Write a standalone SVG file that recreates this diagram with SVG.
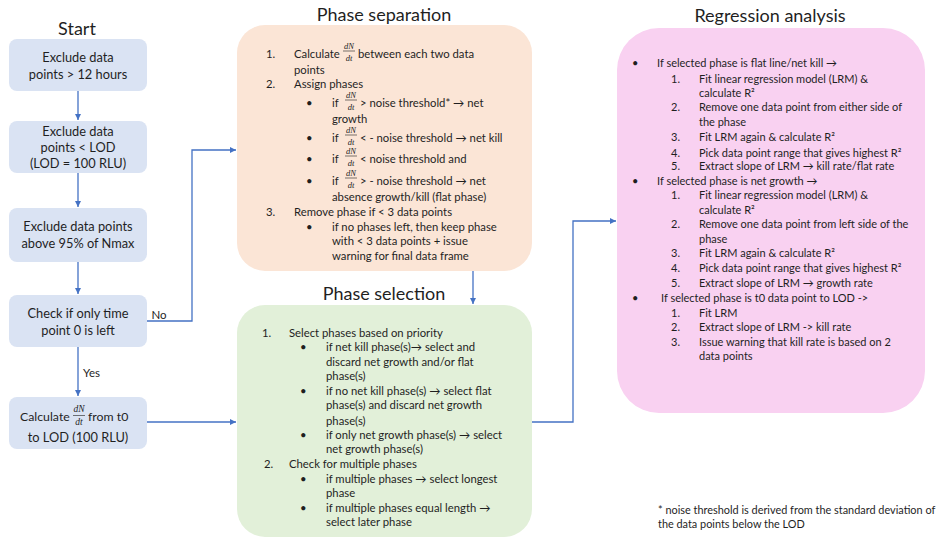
<svg xmlns="http://www.w3.org/2000/svg" width="939" height="539" viewBox="0 0 939 539">
<style>
text{font-family:Lato,"Liberation Sans",sans-serif;fill:#1f1f1f}
.t{font-size:18px}
.b{font-size:12.8px;text-anchor:middle}
.bs{font-size:12.3px}
.s{font-size:11.3px}
.r{font-size:11px}
.f{font-family:"Liberation Serif",serif;font-style:italic;font-size:8.5px;text-anchor:middle}
.fl{stroke:#1f1f1f;stroke-width:0.6}
.blue{fill:#dae3f3}
.con{fill:none;stroke:#4472c4;stroke-width:1.3}
</style>
<defs>
<marker id="ah" markerUnits="userSpaceOnUse" markerWidth="8" markerHeight="8" refX="6" refY="3" orient="auto">
<path d="M0,0 L6,3 L0,6 z" fill="#4472c4"/>
</marker>
</defs>

<text class="t" x="77" y="35" text-anchor="middle">Start</text>
<text class="t" x="384" y="21" text-anchor="middle">Phase separation</text>
<text class="t" x="384" y="300" text-anchor="middle">Phase selection</text>
<text class="t" x="770" y="22" text-anchor="middle">Regression analysis</text>

<g id="connectors">
<path class="con" d="M78,91 V120" marker-end="url(#ah)"/>
<path class="con" d="M78,173 V207" marker-end="url(#ah)"/>
<path class="con" d="M78,262 V294" marker-end="url(#ah)"/>
<path class="con" d="M78,347 V396" marker-end="url(#ah)"/>
<path class="con" d="M147,321 H192 V150 H236" marker-end="url(#ah)"/>
<path class="con" d="M147,422 H236" marker-end="url(#ah)"/>
<path class="con" d="M473,271 V304" marker-end="url(#ah)"/>
<path class="con" d="M532,422 H573 V221 H616" marker-end="url(#ah)"/>
<text x="159" y="319" text-anchor="middle" style="font-size:11.5px">No</text>
<text x="83" y="377" style="font-size:11.5px">Yes</text>
</g>

<g id="n1">
<rect class="blue" x="9" y="39" width="138" height="52" rx="8"/>
<text class="b" x="78" y="62">Exclude data</text>
<text class="b" x="78" y="79">points &gt; 12 hours</text>
</g>
<g id="n2">
<rect class="blue" x="9" y="121" width="138" height="52" rx="8"/>
<text class="b" x="78" y="136">Exclude data</text>
<text class="b" x="78" y="152">points  &lt; LOD</text>
<text class="b" x="78" y="168">(LOD = 100 RLU)</text>
</g>
<g id="n3">
<rect class="blue" x="9" y="208" width="138" height="54" rx="8"/>
<text class="b" x="78" y="231">Exclude data points</text>
<text class="b" x="78" y="248">above 95% of Nmax</text>
</g>
<g id="n4">
<rect class="blue" x="9" y="295" width="138" height="52" rx="8"/>
<text class="b" x="78" y="318">Check if only time</text>
<text class="b" x="78" y="335">point 0 is left</text>
</g>
<g id="n5">
<rect class="blue" x="9" y="397" width="138" height="52" rx="8"/>
<text class="bs" x="20" y="421">Calculate</text>
<text class="f" x="79" y="412" style="font-size:9.5px">dN</text>
<line class="fl" x1="73" y1="415.5" x2="85" y2="415.5"/>
<text class="f" x="79" y="425" style="font-size:9.5px">dt</text>
<text class="bs" x="88" y="421">from t0</text>
<text class="b" x="78" y="442">to LOD (100 RLU)</text>
</g>

<g id="phase-separation">
<rect x="237" y="25" width="295" height="246" rx="28" fill="#fbe5d6"/>
<text class="s" x="266" y="58">1.</text>
<text class="s" x="294" y="58">Calculate</text>
<text class="f" x="349" y="48.5">dN</text>
<line class="fl" x1="343" y1="51" x2="355" y2="51"/>
<text class="f" x="349" y="60.5">dt</text>
<text class="s" x="358" y="58">between each two data</text>
<text class="s" x="294" y="74">points</text>
<text class="s" x="266" y="88">2.</text>
<text class="s" x="294" y="88">Assign phases</text>
<text class="s" x="306" y="107">•</text>
<text class="s" x="332" y="107">if</text>
<text class="f" x="351" y="97.5">dN</text>
<line class="fl" x1="345" y1="100" x2="357" y2="100"/>
<text class="f" x="351" y="109.5">dt</text>
<text class="s" x="360" y="107">&gt; noise threshold* → net</text>
<text class="s" x="332" y="123">growth</text>
<text class="s" x="306" y="142">•</text>
<text class="s" x="332" y="142">if</text>
<text class="f" x="351" y="132.5">dN</text>
<line class="fl" x1="345" y1="135" x2="357" y2="135"/>
<text class="f" x="351" y="144.5">dt</text>
<text class="s" x="360" y="142">&lt; - noise threshold → net kill</text>
<text class="s" x="306" y="163">•</text>
<text class="s" x="332" y="163">if</text>
<text class="f" x="351" y="153.5">dN</text>
<line class="fl" x1="345" y1="156" x2="357" y2="156"/>
<text class="f" x="351" y="165.5">dt</text>
<text class="s" x="360" y="163">&lt; noise threshold and</text>
<text class="s" x="306" y="185">•</text>
<text class="s" x="332" y="185">if</text>
<text class="f" x="351" y="175.5">dN</text>
<line class="fl" x1="345" y1="178" x2="357" y2="178"/>
<text class="f" x="351" y="187.5">dt</text>
<text class="s" x="360" y="185">&gt; - noise threshold → net</text>
<text class="s" x="332" y="201">absence growth/kill (flat phase)</text>
<text class="s" x="266" y="216">3.</text>
<text class="s" x="294" y="216">Remove phase if &lt; 3 data points</text>
<text class="s" x="306" y="231">•</text>
<text class="s" x="332" y="231">if no phases left, then keep phase</text>
<text class="s" x="332" y="245">with &lt; 3 data points + issue</text>
<text class="s" x="332" y="260">warning for final data frame</text>
</g>

<g id="phase-selection">
<rect x="237" y="305" width="295" height="232" rx="28" fill="#e2f0d9"/>
<text class="s" x="262" y="337">1.</text>
<text class="s" x="289" y="337">Select phases based on priority</text>
<text class="s" x="300" y="351">•</text>
<text class="s" x="326" y="351">if net kill phase(s)→ select and</text>
<text class="s" x="326" y="366">discard net growth and/or flat</text>
<text class="s" x="326" y="380">phase(s)</text>
<text class="s" x="300" y="395">•</text>
<text class="s" x="326" y="395">if no net kill phase(s) → select flat</text>
<text class="s" x="326" y="409">phase(s) and discard net growth</text>
<text class="s" x="326" y="425">phase(s)</text>
<text class="s" x="300" y="439">•</text>
<text class="s" x="326" y="439">if only net growth phase(s) → select</text>
<text class="s" x="326" y="453">net growth phase(s)</text>
<text class="s" x="264" y="468">2.</text>
<text class="s" x="289" y="468">Check for multiple phases</text>
<text class="s" x="300" y="483">•</text>
<text class="s" x="326" y="483">if multiple phases → select longest</text>
<text class="s" x="326" y="497">phase</text>
<text class="s" x="300" y="512">•</text>
<text class="s" x="326" y="512">if multiple phases equal length →</text>
<text class="s" x="326" y="526">select later phase</text>
</g>

<g id="regression-analysis">
<rect x="617" y="28" width="308" height="385" rx="42" fill="#f9d1f1"/>
<text class="r" x="632" y="67">•</text>
<text class="r" x="657" y="67">If selected phase is flat line/net kill →</text>
<text class="r" x="671" y="83">1.</text>
<text class="r" x="699" y="83">Fit linear regression model (LRM) &amp;</text>
<text class="r" x="699" y="97">calculate R²</text>
<text class="r" x="671" y="111">2.</text>
<text class="r" x="699" y="111">Remove one data point from either side of</text>
<text class="r" x="699" y="126">the phase</text>
<text class="r" x="671" y="141">3.</text>
<text class="r" x="699" y="141">Fit LRM again &amp; calculate R²</text>
<text class="r" x="671" y="157">4.</text>
<text class="r" x="699" y="157">Pick data point range that gives highest R²</text>
<text class="r" x="671" y="170">5.</text>
<text class="r" x="699" y="170">Extract slope of LRM → kill rate/flat rate</text>
<text class="r" x="632" y="185">•</text>
<text class="r" x="657" y="185">If selected phase is net growth →</text>
<text class="r" x="671" y="199">1.</text>
<text class="r" x="699" y="199">Fit linear regression model (LRM) &amp;</text>
<text class="r" x="699" y="214">calculate R²</text>
<text class="r" x="671" y="228">2.</text>
<text class="r" x="699" y="228">Remove one data point from left side of the</text>
<text class="r" x="699" y="243">phase</text>
<text class="r" x="671" y="257">3.</text>
<text class="r" x="699" y="257">Fit LRM again &amp; calculate R²</text>
<text class="r" x="671" y="272">4.</text>
<text class="r" x="699" y="272">Pick data point range that gives highest R²</text>
<text class="r" x="671" y="287">5.</text>
<text class="r" x="699" y="287">Extract slope of LRM →  growth rate</text>
<text class="r" x="632" y="302">•</text>
<text class="r" x="661" y="302">If selected phase is t0 data point to LOD -&gt;</text>
<text class="r" x="671" y="317">1.</text>
<text class="r" x="699" y="317">Fit LRM</text>
<text class="r" x="671" y="331">2.</text>
<text class="r" x="699" y="331">Extract slope of LRM -&gt; kill rate</text>
<text class="r" x="671" y="346">3.</text>
<text class="r" x="699" y="346">Issue warning that kill rate is based on 2</text>
<text class="r" x="699" y="360">data points</text>
</g>

<g id="footnote">
<text x="658" y="514" style="font-size:10.9px">* noise threshold is derived from the standard deviation of</text>
<text x="658" y="528" style="font-size:10.9px">the data points below the LOD</text>
</g>
</svg>
